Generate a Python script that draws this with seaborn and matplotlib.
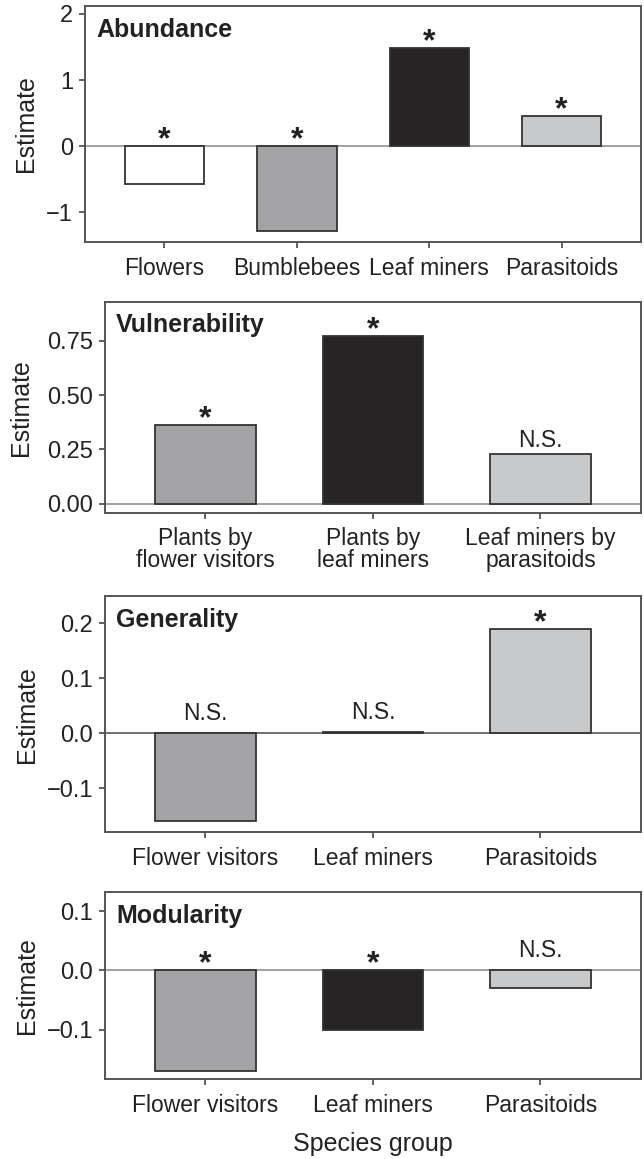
import pandas as pd
import matplotlib
matplotlib.use("Agg")
import matplotlib.pyplot as plt
import seaborn as sns

# --- datos ---
abund_groups = ["Flowers", "Bumblebees", "Leaf miners", "Parasitoids"]
abund_est = [-0.57, -1.29, 1.48, 0.45]
abund_sig = ["*", "*", "*", "*"]
abund_col = ["#ffffff", "#a2a3a6", "#262425", "#c8c9cb"]

vuln_groups = ["Plants by\nflower visitors", "Plants by\nleaf miners", "Leaf miners by\nparasitoids"]
vuln_est = [0.36, 0.77, 0.23]
vuln_sig = ["*", "*", "N.S."]

gen_groups = ["Flower visitors", "Leaf miners", "Parasitoids"]
gen_est = [-0.16, 0.002, 0.19]
gen_sig = ["N.S.", "N.S.", "*"]

mod_groups = ["Flower visitors", "Leaf miners", "Parasitoids"]
mod_est = [-0.17, -0.10, -0.03]
mod_sig = ["*", "*", "N.S."]

three_col = ["#a2a3a6", "#262425", "#c8c9cb"]

sns.set_style("ticks")
plt.rcParams["font.family"] = ["Liberation Sans", "DejaVu Sans"]

fig = plt.figure(figsize=(6.44, 11.59), dpi=100)

# (titulo, grupos, valores, signif, colores, rect, ylim, yticks, formato, pos. ylabel, color linea 0)
panels = [
    ("Abundance", abund_groups, abund_est, abund_sig, abund_col,
     [0.132, 0.7912, 0.8634, 0.2036], (-1.45, 2.12), [-1, 0, 1, 2], "{:.0f}", -0.084, "#9a9a9a"),
    ("Vulnerability", vuln_groups, vuln_est, vuln_sig, three_col,
     [0.163, 0.5576, 0.8323, 0.1821], (-0.042, 0.93), [0, 0.25, 0.5, 0.75], "{:.2f}", -0.134, "#9a9a9a"),
    ("Generality", gen_groups, gen_est, gen_sig, three_col,
     [0.163, 0.2819, 0.8323, 0.2039], (-0.18, 0.25), [-0.1, 0, 0.1, 0.2], "{:.1f}", -0.123, "#666666"),
    ("Modularity", mod_groups, mod_est, mod_sig, three_col,
     [0.163, 0.0688, 0.8323, 0.1613], (-0.184, 0.132), [-0.1, 0, 0.1], "{:.1f}", -0.123, "#9a9a9a"),
]

for i, (title, groups, est, sig, cols, rect, ylim, yticks, fmt, labx, zcol) in enumerate(panels):
    ax = fig.add_axes(rect)
    df = pd.DataFrame({"group": groups, "estimate": est})
    ax.axhline(0, color=zcol, lw=1.3, zorder=0)
    sns.barplot(data=df, x="group", y="estimate", hue="group", order=groups,
                palette=dict(zip(groups, cols)), legend=False, width=0.6,
                edgecolor="#333333", linewidth=1.3, ax=ax, zorder=2)

    ax.set_xlim(-0.6, len(groups) - 0.4)
    ax.set_ylim(*ylim)
    ax.set_yticks(yticks)
    ax.set_yticklabels([fmt.format(t).replace("-", "\u2212") for t in yticks])

    for sp in ax.spines.values():
        sp.set_visible(True)
        sp.set_color("#555555")
        sp.set_linewidth(1.4)
    ax.tick_params(axis="both", length=4.5, width=1.3, color="#555555",
                   labelsize=16.5, labelcolor="#222222", pad=4)
    ax.tick_params(axis="y", labelsize=17)
    ax.tick_params(axis="x", pad=6)
    for lab in ax.get_xticklabels():
        lab.set_linespacing(0.95)

    ax.set_ylabel("Estimate", fontsize=18, color="#222222")
    ax.yaxis.set_label_coords(labx, 0.5)
    if i == 3:
        ax.set_xlabel("Species group", fontsize=18, color="#222222", labelpad=11)
    else:
        ax.set_xlabel("")

    ax.annotate(title, xy=(0, 1), xycoords="axes fraction", xytext=(8, -22),
                textcoords="offset points", ha="left", va="baseline",
                fontsize=18, fontweight="bold", color="#222222")

    for j, (v, s) in enumerate(zip(est, sig)):
        y0 = max(v, 0)
        if s == "*":
            ax.annotate(s, xy=(j, y0), xytext=(0, -1.5), textcoords="offset points",
                        ha="center", va="baseline", fontsize=23, fontweight="bold",
                        color="#222222")
        else:
            ax.annotate(s, xy=(j, y0), xytext=(0, 5 if v > 0.01 else 9.5),
                        textcoords="offset points", ha="center", va="baseline",
                        fontsize=16.5, color="#222222")

fig.savefig("out.png", dpi=100)
